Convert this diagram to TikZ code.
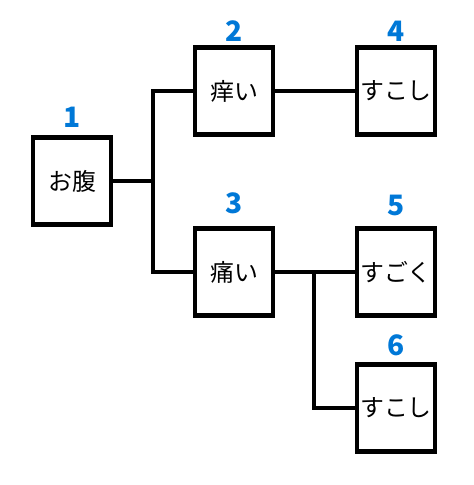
\documentclass[tikz,border=0pt]{standalone}
\usepackage{fontspec}
\newfontfamily\jpfont{Noto Sans CJK JP}
\usepackage{tikz}
\definecolor{inkblue}{RGB}{0,120,215}

\begin{document}
\begin{tikzpicture}[
box/.style={rectangle,draw=black,line width=3pt,minimum width=1.95cm,minimum height=2.175cm,inner sep=0pt,font=\jpfont\fontsize{17}{20}\selectfont},
num/.style={text=inkblue,font=\jpfont\bfseries\fontsize{20}{22}\selectfont},
conn/.style={black,line width=2.4pt}]
\useasboundingbox (0,0) rectangle (11.825,12.125);

\node[box] (b1) at (1.8,7.6) {お腹};
\node[box] (b2) at (5.85,9.85) {痒い};
\node[box] (b3) at (5.85,5.325) {痛い};
\node[box] (b4) at (9.9,9.85) {すこし};
\node[box] (b5) at (9.9,5.325) {すごく};
\node[box] (b6) at (9.9,1.925) {すこし};

\node[num] (n1) at (1.8,9.2) {1};
\node[num] (n2) at (5.85,11.35) {2};
\node[num] (n3) at (5.85,7.05) {3};
\node[num] (n4) at (9.9,11.35) {4};
\node[num] (n5) at (9.9,6.98) {5};
\node[num] (n6) at (9.9,3.5) {6};

\coordinate (j1) at (3.825,7.6);
\coordinate (j2) at (7.85,5.325);
\draw[conn] (b1.east) -- (j1) |- (b2.west);
\draw[conn] (j1) |- (b3.west);
\draw[conn] (b2.east) -- (b4.west);
\draw[conn] (b3.east) -- (b5.west);
\draw[conn] (j2) |- (b6.west);

\end{tikzpicture}
\end{document}
